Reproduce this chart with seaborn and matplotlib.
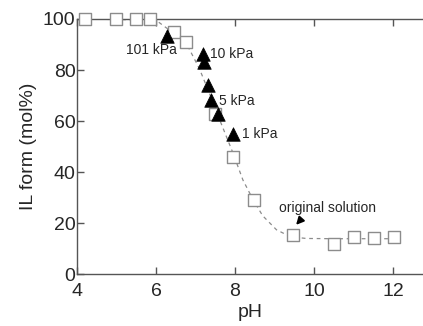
import matplotlib
matplotlib.use("Agg")
import pandas as pd
import seaborn as sns
import matplotlib.pyplot as plt

# squares: IL form vs pH
sq_ph = [4.2, 5.0, 5.5, 5.85, 6.46, 6.75, 7.49, 7.96, 8.49, 9.47, 10.51, 11.01, 11.52, 12.03]
sq_il = [100, 100, 100, 100, 94.8, 90.9, 62.9, 46.0, 29.3, 15.6, 12.1, 14.7, 14.3, 14.7]

# triangles: CO2 pressure runs
tri_ph = [6.27, 7.2, 7.22, 7.31, 7.39, 7.58, 7.94]
tri_il = [93.5, 86.3, 83.3, 74.2, 68.4, 62.9, 55.1]

# dashed guide curve
fit_ph = [4.0, 6.0, 6.35, 6.8, 7.1, 7.35, 7.6, 7.95, 8.2, 8.45, 8.7, 9.05, 9.4, 9.8, 10.5, 12.0]
fit_il = [100, 99.5, 95.5, 89.5, 80.5, 71.0, 61.0, 47.5, 37.0, 29.5, 23.0, 17.5, 14.8, 14.1, 14.0, 14.0]

sns.set_style("ticks")
plt.rcParams['font.family'] = ['Liberation Sans', 'DejaVu Sans']

fig = plt.figure(figsize=(4.23, 3.26), dpi=100)
ax = fig.add_axes([0.182, 0.158, 0.818, 0.784])

sns.lineplot(x=fit_ph, y=fit_il, ax=ax, color='#8c8c8c', linestyle=(0, (3, 3)),
             linewidth=0.9, sort=False, zorder=1)
sns.scatterplot(x=sq_ph, y=sq_il, ax=ax, marker='s', s=80, facecolor='white',
                edgecolor='#8c8c8c', linewidth=1.0, zorder=3, clip_on=False)
sns.scatterplot(x=tri_ph, y=tri_il, ax=ax, marker='^', s=95, color='black',
                edgecolor='black', linewidth=0.5, zorder=4)

fs = 10
ax.text(5.25, 87.8, "101 kPa", fontsize=fs, va='center', ha='left')
ax.text(7.37, 86.3, "10 kPa", fontsize=fs, va='center', ha='left')
ax.text(7.6, 68.0, "5 kPa", fontsize=fs, va='center', ha='left')
ax.text(8.19, 55.0, "1 kPa", fontsize=fs, va='center', ha='left')
ax.text(10.33, 26.2, "original solution", fontsize=fs, va='center', ha='center')
ax.annotate("", xy=(9.5, 18.6), xytext=(9.72, 22.4),
            arrowprops=dict(arrowstyle='-|>', color='black', lw=1.4, mutation_scale=11))

ax.set_xlim(4, 12.76)
ax.set_ylim(0, 100)
ax.set_xticks([4, 6, 8, 10, 12])
ax.set_yticks([0, 20, 40, 60, 80, 100])
ax.set_xlabel("pH", fontsize=14, labelpad=3)
ax.set_ylabel("IL form (mol%)", fontsize=14, labelpad=4)

for side in ['left', 'bottom', 'top']:
    ax.spines[side].set_color('#555555')
    ax.spines[side].set_linewidth(1.0)
ax.spines['right'].set_visible(False)
ax.tick_params(direction='in', length=5, width=1, color='#555555', labelsize=14,
               top=True, right=False)
ax.tick_params(axis='x', pad=6)
ax.tick_params(axis='y', pad=1)

fig.savefig("out.png", dpi=100)
